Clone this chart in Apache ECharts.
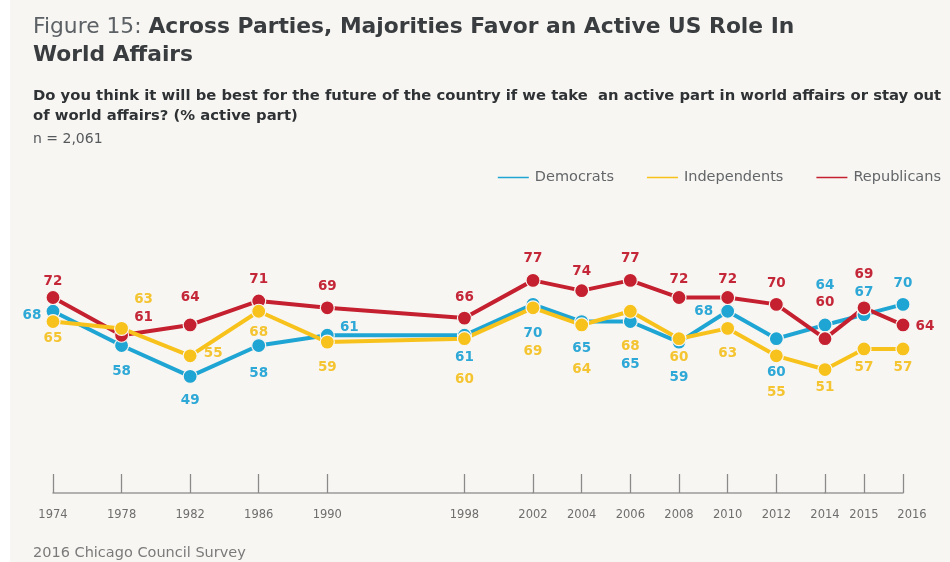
<!DOCTYPE html>
<html>
<head>
<meta charset="utf-8">
<script src="https://cdn.jsdelivr.net/npm/echarts@6/dist/echarts.min.js"></script>
<style>
  html, body { margin: 0; padding: 0; background: #ffffff; }
  #chart { width: 950px; height: 562px; }
</style>
</head>
<body>
<div id="chart"></div>
<script>
// Survey years and share (%) preferring an active part in world affairs
const years = [1974, 1978, 1982, 1986, 1990, 1998, 2002, 2004, 2006, 2008, 2010, 2012, 2014, 2015, 2016];
const democrats    = [68, 58, 49, 58, 61, 61, 70, 65, 65, 59, 68, 60, 64, 67, 70];
const independents = [65, 63, 55, 68, 59, 60, 69, 64, 68, 60, 63, 55, 51, 57, 57];
const republicans  = [72, 61, 64, 71, 69, 66, 77, 74, 77, 72, 72, 70, 60, 69, 64];

// Label nudges (dx, dy) around each point, so the three label sets don't collide
const demLabelShift = [[-21, 4], [0, 26], [0, 24], [0, 28], [22, -8], [0, 22], [0, 29], [0, 27], [0, 43], [0, 35], [-24, 0], [0, 34], [0, -39], [0, -22], [0, -21]];
const indLabelShift = [[0, 17], [22, -29], [23, -2], [0, 21], [0, 25], [0, 41], [0, 44], [0, 45], [0, 35], [0, 19], [0, 25], [0, 37], [0, 18], [0, 19], [0, 19]];
const repLabelShift = [[0, -16], [22, -18], [0, -27], [0, -21], [0, -21], [0, -21], [0, -22], [0, -19], [0, -22], [0, -18], [0, -18], [0, -21], [0, -36], [0, -33], [22, 2]];

// The time axis is drawn in three stretches, each with its own linear year scale
const segments = [
  { from: 1974, to: 2002, left: 53,  width: 480 },
  { from: 2002, to: 2014, left: 533, width: 292 },
  { from: 2014, to: 2016, left: 825, width: 78 }
];

const parties = [
  { name: 'Democrats',    values: democrats,    shift: demLabelShift, color: '#1fa5d3', text: '#2ea8d6' },
  { name: 'Republicans',  values: republicans,  shift: repLabelShift, color: '#c5202f', text: '#c42738' },
  { name: 'Independents', values: independents, shift: indLabelShift, color: '#f8c21c', text: '#f4c431' }
];

const FONT = '"DejaVu Sans", "Noto Sans", sans-serif';
const BG = '#f8f6f2';

const grids = [], xAxes = [], yAxes = [], series = [];

segments.forEach((seg, si) => {
  // a shared boundary year is drawn by the stretch that starts before it
  const owns = y => y <= seg.to && (y > seg.from || si === 0);
  const ownYears = years.filter(owns);

  grids.push({ left: seg.left, width: seg.width, top: 201.5, height: 291.5 });
  xAxes.push({
    type: 'value', gridIndex: si, min: seg.from, max: seg.to,
    splitLine: { show: false },
    axisLine: { show: true, lineStyle: { color: '#9a9a9a', width: 1.5 } },
    axisTick: { show: true, inside: true, length: 19, customValues: ownYears, lineStyle: { color: '#8a8a8a', width: 1.3 } },
    axisLabel: {
      customValues: ownYears, margin: 16, color: '#6e6e6e', fontSize: 11.5, fontFamily: FONT,
      formatter: v => (v === 2016 ? '{hi|' + v + '}' : String(v)),
      rich: { hi: { fontSize: 11.5, color: '#6e6e6e', fontFamily: FONT, padding: [0, 0, 8, 18] } }
    }
  });
  yAxes.push({ type: 'value', gridIndex: si, min: 15, max: 100, show: false });

  parties.forEach(p => {
    const data = [];
    years.forEach((y, i) => {
      if (y < seg.from || y > seg.to) return;
      const own = owns(y);
      data.push({
        value: [y, p.values[i]],
        symbol: own ? 'circle' : 'none',
        label: { show: own, offset: p.shift[i] }
      });
    });
    series.push({
      name: p.name, type: 'line', xAxisIndex: si, yAxisIndex: si,
      data: data, color: p.color, showAllSymbol: true,
      symbol: 'circle', symbolSize: 14,
      lineStyle: { width: 4, color: p.color },
      itemStyle: { color: p.color, borderColor: BG, borderWidth: 1.2 },
      label: {
        show: true, position: 'inside', color: p.text,
        fontFamily: FONT, fontWeight: 'bold', fontSize: 13.5,
        formatter: d => d.value[1]
      },
      emphasis: { disabled: true },
      z: 2
    });
  });
});

const chart = echarts.init(document.getElementById('chart'), null, { renderer: 'canvas' });
chart.setOption({
  animation: false,
  backgroundColor: '#ffffff',
  graphic: [{ type: 'rect', left: 10, top: 0, shape: { width: 940, height: 562 }, style: { fill: BG }, z: -10 }],
  title: [
    {
      left: 28, top: 8,
      text: '{a|Figure 15: }{b|Across Parties, Majorities Favor an Active US Role In}\n{b|World Affairs}',
      textStyle: {
        rich: {
          a: { fontFamily: FONT, fontSize: 21.8, color: '#5c6165', fontWeight: 'normal', lineHeight: 28 },
          b: { fontFamily: FONT, fontSize: 21.8, color: '#3a3d40', fontWeight: 'bold', lineHeight: 28 }
        }
      }
    },
    {
      left: 28, top: 81,
      text: 'Do you think it will be best for the future of the country if we take  an active part in world affairs or stay out\nof world affairs? (% active part)',
      textStyle: { fontFamily: FONT, fontSize: 14.8, fontWeight: 'bold', color: '#2f3235', lineHeight: 20 }
    },
    {
      left: 28, top: 127,
      text: 'n = 2,061',
      textStyle: { fontFamily: FONT, fontSize: 14, fontWeight: 'normal', color: '#55595c' }
    },
    {
      left: 28, top: 541,
      text: '2016 Chicago Council Survey',
      textStyle: { fontFamily: FONT, fontSize: 14.5, fontWeight: 'normal', color: '#7a7a7a' }
    }
  ],
  legend: {
    data: ['Democrats', 'Independents', 'Republicans'],
    right: 4, top: 165,
    icon: 'rect', itemWidth: 33, itemHeight: 3.5, itemGap: 31,
    textStyle: { fontFamily: FONT, fontSize: 14.5, color: '#626669' },
    selectedMode: false
  },
  grid: grids,
  xAxis: xAxes,
  yAxis: yAxes,
  series: series
});
</script>
</body>
</html>
